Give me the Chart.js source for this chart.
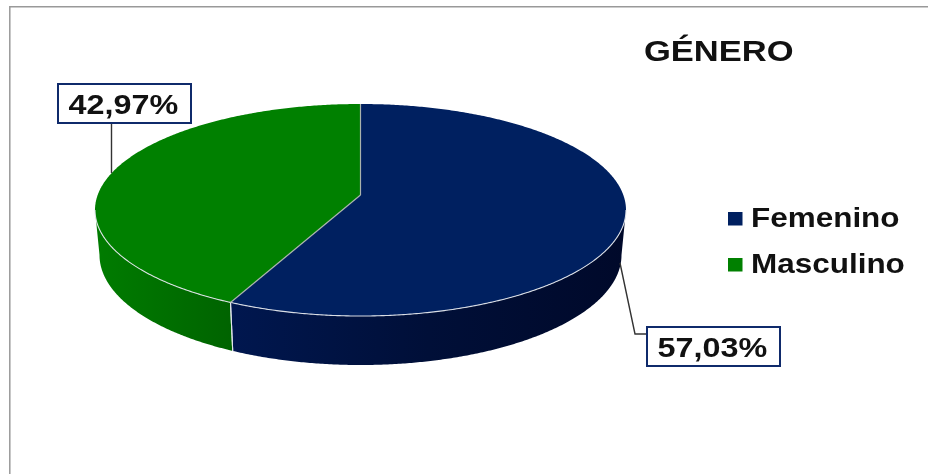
<!DOCTYPE html>
<html>
<head>
<meta charset="utf-8">
<style>
  html, body { margin: 0; padding: 0; background: #fff; }
  canvas { display: block; }
</style>
<script src="https://cdn.jsdelivr.net/npm/chart.js@4"></script>
</head>
<body>
<canvas id="chart" width="928" height="474"></canvas>
<script>
const chartTitle = 'GÉNERO'
const categories = ['Femenino', 'Masculino']
const values = [57.03, 42.97]

const topColors = ['#002060', '#008000']
// degradado de la pared lateral, de izquierda a derecha
const wallColors = [['#00174f', '#000f38', '#00092a'], ['#007c00', '#006300']]

// --- proyeccion del disco en perspectiva ---
const top3d = { cx: 360.5, cy: 210, rx: 265.5, ry: 106 }
const bottom3d = { cx: 360.5, cy: 255, rx: 261, ry: 110 }
const apexY = 195
const farSquash = 1.165

const FONT = '"Liberation Sans", Arial, sans-serif'

// angulo de Chart.js -> parametro sobre la elipse (0 arriba, sentido horario)
function rimParam(angle) {
  const t = (angle + Math.PI / 2) / 2
  return 2 * Math.atan2(Math.sin(t), farSquash * Math.cos(t))
}

function rimPoint(e, phi) {
  return [e.cx + e.rx * Math.sin(phi), e.cy - e.ry * Math.cos(phi)]
}

function tracePoints(ctx, pts) {
  pts.forEach((p, i) => i ? ctx.lineTo(p[0], p[1]) : ctx.moveTo(p[0], p[1]))
}

function sampleRim(e, from, to) {
  const n = Math.max(2, Math.ceil(Math.abs(to - from) * 120))
  const pts = []
  for (let i = 0; i <= n; i++) pts.push(rimPoint(e, from + (to - from) * i / n))
  return pts
}

// texto ensanchado: el original esta estirado en horizontal
function stretchedText(ctx, text, x, y, size, sx) {
  ctx.save()
  ctx.translate(x, y)
  ctx.scale(sx, 1)
  ctx.font = `bold ${size}px ${FONT}`
  ctx.fillStyle = '#111'
  ctx.textAlign = 'left'
  ctx.textBaseline = 'alphabetic'
  ctx.fillText(text, 0, 0)
  ctx.restore()
}

const pie3d = {
  id: 'pie3d',
  beforeDatasetDraw(chart, args) {
    const ctx = chart.ctx
    const arcs = chart.getDatasetMeta(args.index).data
    const ranges = arcs.map(a => [rimParam(a.startAngle), rimParam(a.endAngle)])

    // paredes laterales (solo la mitad frontal)
    ctx.save()
    ranges.forEach((r, i) => {
      const from = Math.max(r[0], Math.PI / 2)
      const to = Math.min(r[1], Math.PI * 1.5)
      if (to <= from) return
      const upper = sampleRim(top3d, from, to)
      const lower = sampleRim(bottom3d, from, to).reverse()
      const xs = upper.concat(lower).map(p => p[0])
      const grad = ctx.createLinearGradient(Math.min(...xs), 0, Math.max(...xs), 0)
      wallColors[i].forEach((c, k) => grad.addColorStop(k / (wallColors[i].length - 1), c))
      ctx.beginPath()
      tracePoints(ctx, upper.concat(lower))
      ctx.closePath()
      ctx.fillStyle = grad
      ctx.fill()
    })

    // linea vertical entre sectores en la pared
    ctx.strokeStyle = 'rgba(225,230,235,0.95)'
    ctx.lineWidth = 1.1
    ranges.forEach(r => {
      [r[0], r[1]].forEach(phi => {
        if (phi <= Math.PI / 2 || phi >= Math.PI * 1.5) return
        ctx.beginPath()
        tracePoints(ctx, [rimPoint(top3d, phi), rimPoint(bottom3d, phi)])
        ctx.stroke()
      })
    })

    // cara superior
    ranges.forEach((r, i) => {
      ctx.beginPath()
      tracePoints(ctx, [[top3d.cx, apexY]].concat(sampleRim(top3d, r[0], r[1])))
      ctx.closePath()
      ctx.fillStyle = topColors[i]
      ctx.fill()
    })

    // borde claro delantero y radios
    ctx.strokeStyle = 'rgba(225,230,235,0.95)'
    ctx.lineWidth = 1.1
    ctx.beginPath()
    tracePoints(ctx, sampleRim(top3d, Math.PI / 2, Math.PI * 1.5))
    ctx.stroke()
    ctx.strokeStyle = '#aab3ad'
    ctx.lineWidth = 1.2
    ranges.forEach(r => {
      ctx.beginPath()
      tracePoints(ctx, [[top3d.cx, apexY], rimPoint(top3d, r[0])])
      ctx.stroke()
    })
    ctx.restore()
    return false
  },
  afterDraw(chart) {
    const ctx = chart.ctx
    ctx.save()

    // marco del grafico, solo arriba e izquierda
    ctx.strokeStyle = '#999'
    ctx.lineWidth = 1.5
    ctx.beginPath()
    ctx.moveTo(928, 6.8)
    ctx.lineTo(9.8, 6.8)
    ctx.lineTo(9.8, 474)
    ctx.stroke()

    stretchedText(ctx, chartTitle, 644, 61, 29, 1.19)

    // leyenda
    categories.forEach((name, i) => {
      const y = 212 + i * 46
      ctx.fillStyle = topColors[i]
      ctx.fillRect(728, y, 14.5, 13.5)
      stretchedText(ctx, name, 751, y + 15, 27, 1.165)
    })

    // lineas guia y etiquetas
    ctx.strokeStyle = '#333'
    ctx.lineWidth = 1.4
    ctx.beginPath()
    ctx.moveTo(111.5, 123)
    ctx.lineTo(111.5, 173)
    ctx.moveTo(620, 263)
    ctx.lineTo(635, 334)
    ctx.lineTo(647, 334)
    ctx.stroke()

    const boxes = [[647, 327], [58, 84]]
    values.forEach((v, i) => {
      const [bx, by] = boxes[i]
      ctx.fillStyle = '#fff'
      ctx.fillRect(bx, by, 133, 39)
      ctx.strokeStyle = '#0f2a6b'
      ctx.lineWidth = 2
      ctx.strokeRect(bx, by, 133, 39)
      stretchedText(ctx, v.toFixed(2).replace('.', ',') + '%', bx + 10.5, by + 30, 28, 1.155)
    })
    ctx.restore()
  }
}

new Chart(document.getElementById('chart'), {
  type: 'pie',
  data: {
    labels: categories,
    datasets: [{ data: values, backgroundColor: topColors, borderWidth: 0 }]
  },
  options: {
    responsive: false,
    animation: false,
    plugins: {
      legend: { display: false },
      title: { display: false },
      tooltip: { enabled: false }
    }
  },
  plugins: [pie3d]
})
</script>
</body>
</html>
